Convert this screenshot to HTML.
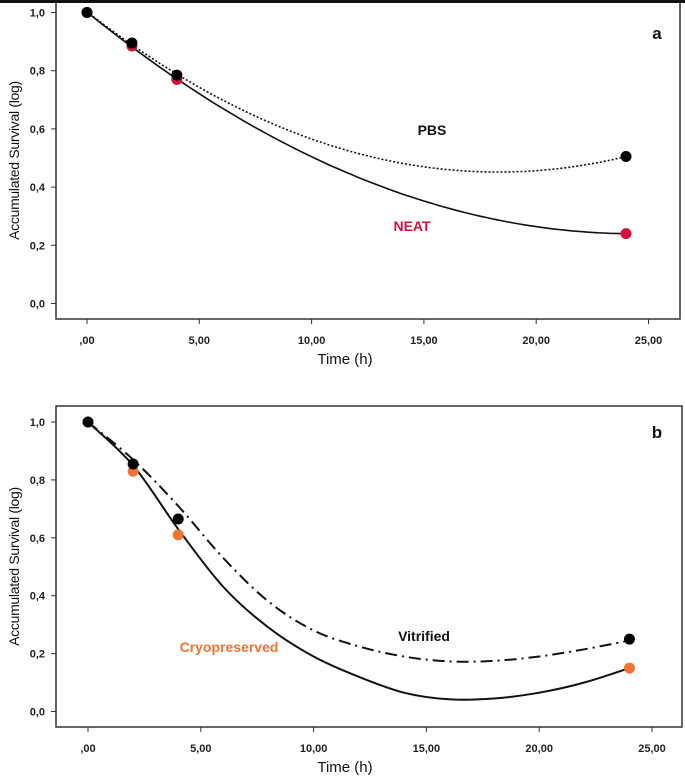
<!DOCTYPE html>
<html><head><meta charset="utf-8">
<style>
body{margin:0;background:#fff;overflow:hidden;}
svg{display:block;font-family:"Liberation Sans",Arial,sans-serif;}
.tick{font-size:11px;font-weight:bold;fill:#222;}
</style></head>
<body>
<svg id="chart" width="685" height="783" xmlns="http://www.w3.org/2000/svg"></svg>
<script>
const times = [0, 2, 4, 24];
const pbsValues = [1.0, 0.895, 0.785, 0.505];
const neatValues = [1.0, 0.885, 0.77, 0.24];
const vitrifiedValues = [1.0, 0.855, 0.665, 0.25];
const cryoValues = [1.0, 0.83, 0.61, 0.15];
const fitTimes = [0, 2, 4, 6, 8, 10, 12, 14, 16, 18, 20, 22, 24];
const vitrifiedFit = [1.0, 0.87, 0.71, 0.53, 0.38, 0.28, 0.225, 0.19, 0.173, 0.175, 0.19, 0.215, 0.245];
const cryoFit = [1.0, 0.85, 0.63, 0.43, 0.29, 0.19, 0.12, 0.065, 0.042, 0.045, 0.065, 0.10, 0.15];
const xTickValues = [0, 5, 10, 15, 20, 25];
const xTickLabels = [",00", "5,00", "10,00", "15,00", "20,00", "25,00"];
const yTickValues = [0, 0.2, 0.4, 0.6, 0.8, 1.0];
const yTickLabels = ["0,0", "0,2", "0,4", "0,6", "0,8", "1,0"];

const NS = "http://www.w3.org/2000/svg";
const svg = document.getElementById("chart");
function mk(tag, attrs, parent) {
  const e = document.createElementNS(NS, tag);
  for (const k in attrs) e.setAttribute(k, attrs[k]);
  (parent || svg).appendChild(e);
  return e;
}
function solve(A, b) {
  const n = b.length; A = A.map((r, i) => r.concat([b[i]]));
  for (let i = 0; i < n; i++) {
    let p = i; for (let r = i + 1; r < n; r++) if (Math.abs(A[r][i]) > Math.abs(A[p][i])) p = r;
    [A[i], A[p]] = [A[p], A[i]];
    for (let r = 0; r < n; r++) if (r !== i) { const f = A[r][i] / A[i][i]; for (let c = i; c <= n; c++) A[r][c] -= f * A[i][c]; }
  }
  return A.map((r, i) => r[n] / r[i]);
}
function polyFit(xs, ys, deg) {
  const m = deg + 1, A = [], b = [];
  for (let i = 0; i < m; i++) { A.push([]); for (let j = 0; j < m; j++) A[i].push(xs.reduce((s, x) => s + Math.pow(x, i + j), 0)); b.push(xs.reduce((s, x, k) => s + Math.pow(x, i) * ys[k], 0)); }
  const c = solve(A, b);
  return x => c.reduce((s, ci, i) => s + ci * Math.pow(x, i), 0);
}
function splinePath(pts) {
  let d = "M" + pts[0][0].toFixed(1) + "," + pts[0][1].toFixed(1);
  for (let i = 0; i < pts.length - 1; i++) {
    const p0 = pts[Math.max(0, i - 1)], p1 = pts[i], p2 = pts[i + 1], p3 = pts[Math.min(pts.length - 1, i + 2)];
    const c1 = [p1[0] + (p2[0] - p0[0]) / 6, p1[1] + (p2[1] - p0[1]) / 6];
    const c2 = [p2[0] - (p3[0] - p1[0]) / 6, p2[1] - (p3[1] - p1[1]) / 6];
    d += "C" + c1.map(v => v.toFixed(1)).join(",") + " " + c2.map(v => v.toFixed(1)).join(",") + " " + p2.map(v => v.toFixed(1)).join(",");
  }
  return d;
}

function panel(cfg) {
  const g = mk("g", {});
  
  
  const xs = v => cfg.x0 + (cfg.x25 - cfg.x0) * v / 25;
  const ys = v => cfg.y0 + (cfg.y1 - cfg.y0) * v;
  const fr = mk("rect", {x: cfg.left, y: cfg.top, width: cfg.right - cfg.left, height: cfg.bottom - cfg.top, fill: "none", stroke: "#333", "stroke-width": 1.5}, g);
  
  
  if (cfg.thickTop) mk("line", {x1: 0, x2: 685, y1: 1.5, y2: 1.5, stroke: "#111", "stroke-width": 3}, g);
  xTickValues.forEach((v, i) => {
    const x = xs(v);
    mk("line", {x1: x, x2: x, y1: cfg.bottom, y2: cfg.bottom + 5, stroke: "#333", "stroke-width": 1}, g);
    const t = mk("text", {x: x, y: cfg.bottom + 25, "text-anchor": "middle", class: "tick"}, g);
    t.textContent = xTickLabels[i];
    
    
  });
  yTickValues.forEach((v, i) => {
    const y = ys(v);
    mk("line", {x1: cfg.left - 5, x2: cfg.left, y1: y, y2: y, stroke: "#333", "stroke-width": 1}, g);
    const t = mk("text", {x: 45, y: y + 4, "text-anchor": "end", class: "tick"}, g);
    t.textContent = yTickLabels[i];
    
    
  });
  const xt = mk("text", {x: 345, y: cfg.bottom + 45, "text-anchor": "middle", "font-size": 15, fill: "#111"}, g);
  xt.textContent = "Time (h)";
  
  
  const cy = (cfg.top + cfg.bottom) / 2;
  const yt = mk("text", {x: 19, y: cy, "text-anchor": "middle", "font-size": 14, fill: "#111", transform: `rotate(-90 19 ${cy})`, "letter-spacing": "-0.3"}, g);
  yt.textContent = "Accumulated Survival (log)";
  
  
  const pl = mk("text", {x: 657, y: cfg.top + (cfg.thickTop ? 37 : 32), "text-anchor": "middle", "font-size": 17, "font-weight": "bold", fill: "#111"}, g);
  pl.textContent = cfg.letter;
  
  

  cfg.series.forEach(s => {
    let d = "";
    if (s.fit) {
      d = splinePath(fitTimes.map((t, i) => [xs(t), ys(s.fit[i])]));
    } else {
      const f = polyFit(times, s.values, s.deg);
      for (let t = 0; t <= 24.001; t += 0.25) d += (d ? "L" : "M") + xs(t).toFixed(1) + "," + ys(f(t)).toFixed(1);
    }
    const p = mk("path", {d: d, fill: "none", stroke: "#111", "stroke-width": s.width, "stroke-dasharray": s.dash || "none"}, g);
    
    
  });
  cfg.series.slice().reverse().forEach(s => {
    s.values.forEach((v, i) => {
      const c = mk("circle", {cx: xs(times[i]), cy: ys(v), r: 5.5, fill: s.color}, g);
      
      
    });
  });
  cfg.labels.forEach(l => {
    const t = mk("text", {x: l.x, y: l.y, "text-anchor": "middle", "font-size": 14, "font-weight": "bold", fill: l.color}, g);
    t.textContent = l.text;
    
    
  });
}

panel({name: "panel-a", letter: "a", thickTop: true, left: 56, right: 680, top: 2, bottom: 319,
  x0: 87, x25: 648.5, y0: 303.5, y1: 12.5,
  series: [
    {key: "pbs", values: pbsValues, deg: 2, dash: "2,2", width: 1.6, color: "#000"},
    {key: "neat", values: neatValues, deg: 2, width: 1.6, color: "#d4123f"}
  ],
  labels: [
    {text: "PBS", x: 432, y: 135, color: "#111", name: "pbs-label"},
    {text: "NEAT", x: 412, y: 231, color: "#d4123f", name: "neat-label"}
  ]});

panel({name: "panel-b", letter: "b", thickTop: false, left: 56, right: 682, top: 406, bottom: 727,
  x0: 88, x25: 652, y0: 711.5, y1: 422,
  series: [
    {key: "vitrified", values: vitrifiedValues, fit: vitrifiedFit, dash: "12,5,2,5", width: 2, color: "#000"},
    {key: "cryopreserved", values: cryoValues, fit: cryoFit, width: 2, color: "#f07434"}
  ],
  labels: [
    {text: "Vitrified", x: 424, y: 641, color: "#111", name: "vitrified-label"},
    {text: "Cryopreserved", x: 229, y: 652, color: "#f07434", name: "cryopreserved-label"}
  ]});
</script>
</body></html>
